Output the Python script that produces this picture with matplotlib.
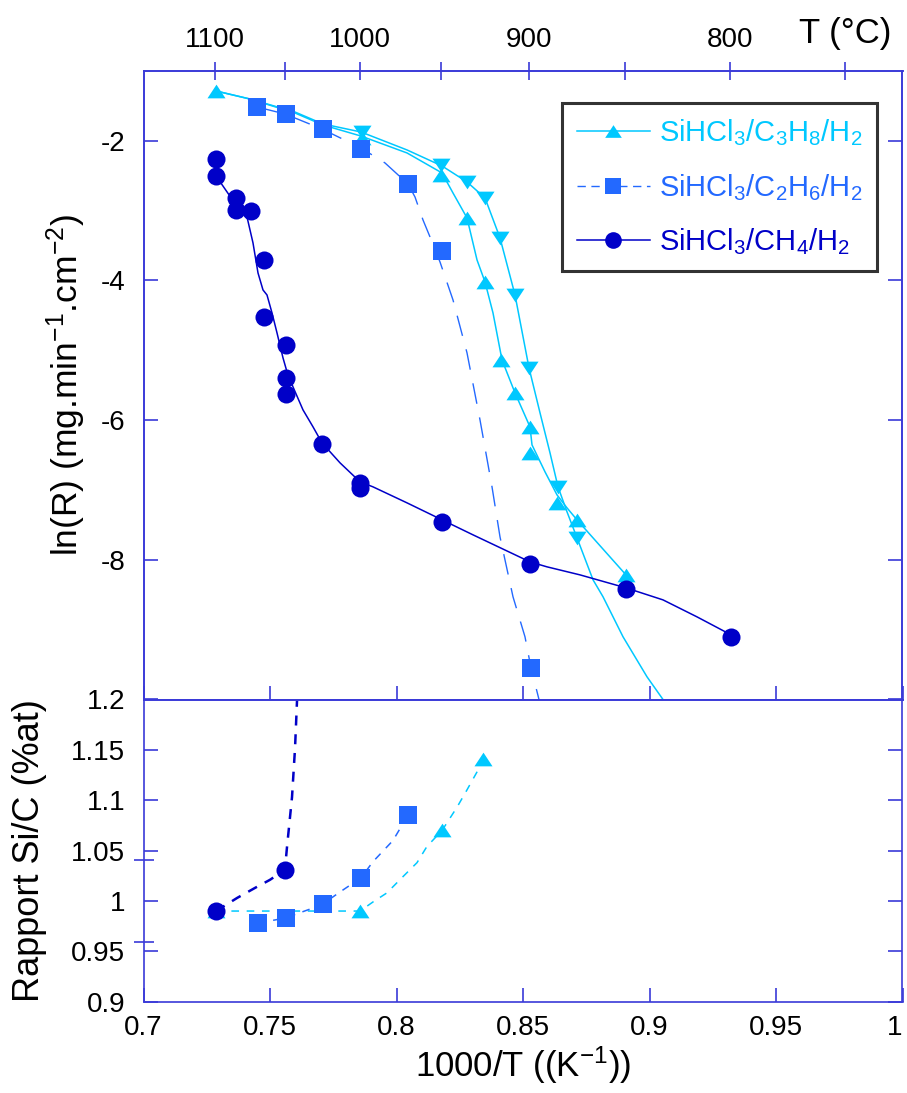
import matplotlib
matplotlib.use('Agg')
import matplotlib.pyplot as plt
from matplotlib.lines import Line2D

plt.rcParams['font.family'] = ['Liberation Sans', 'DejaVu Sans']
plt.rcParams['mathtext.default'] = 'regular'

# ---------------- data ----------------
# Top panel: ln(R) vs 1000/T
c3h8_up_x = [0.7287, 0.7864, 0.8176, 0.8279, 0.8350, 0.8413, 0.8468, 0.8528, 0.8528, 0.8634, 0.8713, 0.8907]
c3h8_up_y = [-1.29, -1.96, -2.49, -3.107, -4.022, -5.139, -5.611, -6.098, -6.470, -7.184, -7.428, -8.216]
c3h8_up_curve_x = [0.72866, 0.74209, 0.75988, 0.77095, 0.78597, 0.80415, 0.81798, 0.82233, 0.82787, 0.83182,
                   0.83498, 0.83814, 0.84170, 0.84684, 0.85277, 0.85356, 0.85870, 0.86344, 0.86739, 0.87134,
                   0.87767, 0.89071]
c3h8_up_curve_y = [-1.289, -1.404, -1.604, -1.776, -1.934, -2.176, -2.462, -2.749, -3.106, -3.707,
                   -4.022, -4.466, -5.139, -5.611, -6.098, -6.355, -6.741, -7.071, -7.257, -7.428,
                   -7.686, -8.216]

c3h8_dn_x = [0.7864, 0.8176, 0.8279, 0.8350, 0.8409, 0.8468, 0.8524, 0.8638, 0.8713]
c3h8_dn_y = [-1.877, -2.348, -2.591, -2.820, -3.392, -4.208, -5.252, -6.955, -7.685]
c3h8_dn_curve_x = [0.72866, 0.74209, 0.75988, 0.77095, 0.78597, 0.80415, 0.81798, 0.82787, 0.83498, 0.84091,
                   0.84684, 0.85237, 0.85672, 0.86067, 0.86383, 0.86739, 0.87134, 0.87767, 0.88162, 0.88953,
                   0.89901, 0.90534]
c3h8_dn_curve_y = [-1.289, -1.404, -1.590, -1.761, -1.876, -2.133, -2.362, -2.591, -2.820, -3.392,
                   -4.208, -5.252, -5.896, -6.469, -6.955, -7.313, -7.685, -8.286, -8.529, -9.102,
                   -9.675, -10.0]

c2h6_x = [0.7449, 0.7562, 0.7708, 0.7860, 0.8047, 0.8181, 0.8530]
c2h6_y = [-1.519, -1.622, -1.837, -2.123, -2.620, -3.579, -9.550]
c2h6_curve_x = [0.74486, 0.75593, 0.77055, 0.78597, 0.79545, 0.80455, 0.80731, 0.81047, 0.81324, 0.81719,
                0.82233, 0.82787, 0.83300, 0.83775, 0.84091, 0.84605, 0.85079, 0.85316, 0.85632]
c2h6_curve_y = [-1.518, -1.618, -1.833, -2.105, -2.319, -2.620, -2.806, -3.135, -3.378, -3.736,
                -4.280, -5.038, -5.997, -6.956, -7.672, -8.530, -9.103, -9.547, -10.0]

ch4_x = [0.7288, 0.7288, 0.7366, 0.7366, 0.7424, 0.7478, 0.7478, 0.7562, 0.7562, 0.7562,
         0.7707, 0.7857, 0.7857, 0.8179, 0.8528, 0.8907, 0.9321]
ch4_y = [-2.268, -2.508, -2.818, -2.986, -3.010, -3.704, -4.518, -4.928, -5.393, -5.623,
         -6.341, -6.901, -6.973, -7.455, -8.064, -8.423, -9.102]
ch4_curve_x = [0.72866, 0.73656, 0.74091, 0.74328, 0.74526, 0.74723, 0.74881, 0.75079, 0.75277, 0.75514,
               0.75672, 0.75909, 0.76304, 0.76700, 0.77055, 0.77767, 0.78557, 0.79071, 0.80415, 0.81798,
               0.83024, 0.85277, 0.85949, 0.87253, 0.89071, 0.90534, 0.91877, 0.93221]
ch4_curve_y = [-2.505, -2.920, -3.092, -3.464, -3.894, -4.137, -4.209, -4.466, -4.752, -5.110,
               -5.310, -5.525, -5.854, -6.097, -6.326, -6.612, -6.884, -6.956, -7.185, -7.428,
               -7.643, -8.030, -8.101, -8.216, -8.402, -8.574, -8.817, -9.074]

# Bottom panel: Si/C ratio vs 1000/T
sic_c3h8_x = [0.7287, 0.7856, 0.8179, 0.8343]
sic_c3h8_y = [0.990, 0.990, 1.070, 1.141]
sic_c3h8_curve_x = [0.7287, 0.7619, 0.7856, 0.7907, 0.7962, 0.8025, 0.8081, 0.8120, 0.8180, 0.8239, 0.8278, 0.8318, 0.8342]
sic_c3h8_curve_y = [0.990, 0.990, 0.990, 0.999, 1.008, 1.024, 1.038, 1.054, 1.070, 1.093, 1.110, 1.128, 1.141]

sic_c2h6_x = [0.7451, 0.7562, 0.7708, 0.7858, 0.8047]
sic_c2h6_y = [0.978, 0.983, 0.997, 1.023, 1.085]
sic_c2h6_curve_x = [0.7453, 0.7559, 0.7670, 0.7709, 0.7777, 0.7860, 0.7907, 0.7986, 0.8045]
sic_c2h6_curve_y = [0.978, 0.983, 0.993, 0.997, 1.009, 1.023, 1.039, 1.060, 1.085]

sic_ch4_x = [0.7287, 0.7560]
sic_ch4_y = [0.990, 1.031]
sic_ch4_curve_x = [0.7287, 0.7370, 0.7441, 0.7500, 0.7559, 0.7567, 0.7587, 0.7599, 0.7607]
sic_ch4_curve_y = [0.990, 1.003, 1.013, 1.021, 1.031, 1.053, 1.103, 1.152, 1.200]

# Axis ticks / labels
x_ticks = [0.7, 0.75, 0.8, 0.85, 0.9, 0.95, 1.0]
x_tick_labels = ['0.7', '0.75', '0.8', '0.85', '0.9', '0.95', '1']
top_y_ticks = [-8, -6, -4, -2]
top_y_tick_labels = ['-8', '-6', '-4', '-2']
bot_y_ticks = [0.9, 0.95, 1.0, 1.05, 1.1, 1.15, 1.2]
bot_y_tick_labels = ['0.9', '0.95', '1', '1.05', '1.1', '1.15', '1.2']
temp_major_C = [1100, 1000, 900, 800]
temp_major_labels = ['1100', '1000', '900', '800']
temp_minor_C = [1050, 950, 850, 750]

series_labels = [r'SiHCl$_3$/C$_3$H$_8$/H$_2$', r'SiHCl$_3$/C$_2$H$_6$/H$_2$', r'SiHCl$_3$/CH$_4$/H$_2$']

# ---------------- style ----------------
C_LIGHT = '#00C8FF'
C_MID = '#2369FF'
C_DARK = '#0000C8'
C_AX = '#3A3AD8'

TRI_UP = [(-1, -0.76), (1, -0.76), (0, 0.76), (-1, -0.76)]
TRI_DN = [(-1, 0.76), (1, 0.76), (0, -0.76), (-1, 0.76)]

W, H = 907, 1093
fig = plt.figure(figsize=(W / 100, H / 100), dpi=100)
left = 143.5 / W
width = (902.5 - 143.5) / W
ax1 = fig.add_axes([left, 1 - 699.5 / H, width, (699.5 - 70.8) / H])
ax2 = fig.add_axes([left, 1 - 1001.7 / H, width, (1001.7 - 699.5) / H])

MS = 13

# ---- top panel ----
ax1.plot(c3h8_dn_curve_x, c3h8_dn_curve_y, color=C_LIGHT, lw=1.1, zorder=2)
ax1.plot(c3h8_up_curve_x, c3h8_up_curve_y, color=C_LIGHT, lw=1.1, zorder=2)
ax1.plot(c2h6_curve_x, c2h6_curve_y, color=C_MID, lw=1.0, dashes=(15, 10), zorder=2)
ax1.plot(ch4_curve_x, ch4_curve_y, color=C_DARK, lw=1.1, zorder=2)

ax1.plot(c3h8_up_x, c3h8_up_y, ls='none', marker=TRI_UP, ms=MS, color=C_LIGHT, mew=0, zorder=3)
ax1.plot(c3h8_dn_x, c3h8_dn_y, ls='none', marker=TRI_DN, ms=MS, color=C_LIGHT, mew=0, zorder=3)
ax1.plot(c2h6_x, c2h6_y, ls='none', marker='s', ms=MS, color=C_MID, mew=0, zorder=4)
ax1.plot(ch4_x, ch4_y, ls='none', marker='o', ms=MS, color=C_DARK, mew=0, zorder=5)

ax1.set_xlim(0.7, 1.0)
ax1.set_ylim(-10, -1)
ax1.set_xticks(x_ticks)
ax1.set_yticks(top_y_ticks)
ax1.set_yticklabels(top_y_tick_labels)
ax1.tick_params(axis='both', direction='in', length=10, width=1.2, color=C_AX,
                labelsize=20, labelbottom=False, right=True, top=False, pad=13)
ax1.set_ylabel(r'ln(R) (mg.min$^{-1}$.cm$^{-2}$)', fontsize=25.5)
ax1.yaxis.set_label_coords(-0.073, 0.5)
ax1.yaxis.label.set_va('bottom')

# secondary temperature axis
axT = ax1.twiny()
axT.set_xlim(0.7, 1.0)
axT.set_xticks([1000.0 / (t + 273.15) for t in temp_major_C])
axT.set_xticklabels(temp_major_labels)
axT.set_xticks([1000.0 / (t + 273.15) for t in temp_minor_C], minor=True)
axT.tick_params(axis='x', which='both', direction='inout', length=13, width=1.2, color=C_AX,
                labelsize=20, pad=6.5)
fig.text(845 / W, 1 - 33 / H, 'T (°C)', fontsize=25, ha='center', va='center')

# legend
handles = [
    Line2D([], [], color=C_LIGHT, lw=1.1, marker=TRI_UP, ms=12, mew=0),
    Line2D([], [], color=C_MID, lw=1.0, dashes=(6, 4), marker='s', ms=12, mew=0),
    Line2D([], [], color=C_DARK, lw=1.1, marker='o', ms=12, mew=0),
]
leg = ax1.legend(handles, series_labels, loc='upper right', bbox_to_anchor=(0.966, 0.9486),
                 borderaxespad=0, fontsize=21, frameon=True, fancybox=False, edgecolor='black',
                 handlelength=2.5, handletextpad=0.3, labelspacing=0.8, borderpad=0.5)
leg.get_frame().set_linewidth(2.2)
for txt, col in zip(leg.get_texts(), [C_LIGHT, C_MID, C_DARK]):
    txt.set_color(col)

# ---- bottom panel ----
ax2.plot(sic_c3h8_curve_x, sic_c3h8_curve_y, color=C_LIGHT, lw=1.1, dashes=(5, 5), zorder=2)
ax2.plot(sic_c2h6_curve_x, sic_c2h6_curve_y, color=C_MID, lw=1.1, dashes=(5, 5), zorder=2)
ax2.plot(sic_ch4_curve_x, sic_ch4_curve_y, color=C_DARK, lw=1.8, dashes=(4, 3.5), zorder=2)

ax2.plot(sic_c3h8_x, sic_c3h8_y, ls='none', marker=TRI_UP, ms=MS, color=C_LIGHT, mew=0, zorder=3)
ax2.plot(sic_c2h6_x, sic_c2h6_y, ls='none', marker='s', ms=MS, color=C_MID, mew=0, zorder=4)
ax2.plot(sic_ch4_x, sic_ch4_y, ls='none', marker='o', ms=MS, color=C_DARK, mew=0, zorder=5)

ax2.set_xlim(0.7, 1.0)
ax2.set_ylim(0.9, 1.2)
ax2.set_xticks(x_ticks)
ax2.set_xticklabels(x_tick_labels)
ax2.set_yticks(bot_y_ticks)
ax2.set_yticklabels(bot_y_tick_labels)
ax2.set_yticks([1.0404, 0.9595], minor=True)
ax2.tick_params(axis='both', which='major', direction='in', length=10, width=1.2, color=C_AX,
                labelsize=20, right=True, top=False, pad=13)
ax2.tick_params(axis='x', which='major', pad=9.5)
ax2.tick_params(axis='y', which='minor', direction='inout', length=14, width=1.2, color=C_AX,
                left=True, right=False)
# keep the last label ("1") inside the figure edge
ax2.get_xticklabels()[-1].set_ha('right')
ax2.set_xlabel(r'1000/T ((K$^{-1}$))', fontsize=25)
ax2.xaxis.set_label_coords(0.5, -0.14)
ax2.xaxis.label.set_va('top')
ax2.set_ylabel('Rapport Si/C (%at)', fontsize=26)
ax2.yaxis.set_label_coords(-0.127, 0.5)
ax2.yaxis.label.set_va('bottom')

for ax in (ax1, ax2, axT):
    for sp in ax.spines.values():
        sp.set_color(C_AX)
        sp.set_linewidth(1.2)

fig.savefig('out.png', dpi=100)
